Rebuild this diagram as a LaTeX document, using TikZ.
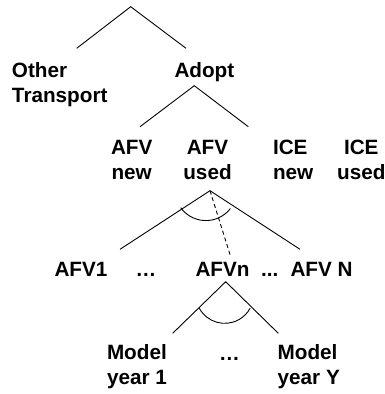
\documentclass[tikz,border=0pt]{standalone}
\usepackage{fontspec}
\setmainfont{Liberation Sans}
\begin{document}
\begin{tikzpicture}[x=1pt,y=-1pt,
  lbl/.style={font=\fontsize{20.7}{24.8}\selectfont\bfseries, inner sep=0pt, outer sep=0pt},
  edge/.style={line width=0.9pt, line join=miter},
  dashededge/.style={line width=0.9pt, dash pattern=on 4pt off 3pt}]
\useasboundingbox (0,0) rectangle (385,394);
% labels
\node[lbl, anchor=north west, align=left] (other) at (12,62.2) {Other\\Transport};
\node[lbl, anchor=base west] (adopt) at (174.5,77.3) {Adopt};
\node[lbl, anchor=north, align=center] (afvnew) at (131.7,140.2) {AFV\\new};
\node[lbl, anchor=north, align=center] (afvused) at (207.5,140.2) {AFV\\used};
\node[lbl, anchor=north west, align=left] (icenew) at (273,140.2) {ICE\\new};
\node[lbl, anchor=north, align=center] (iceused) at (361.3,140.2) {ICE\\used};
\node[lbl, anchor=base west] (afv1) at (54.5,276) {AFV1};
\node[lbl, anchor=base west] (dotsa) at (135.5,276) {…};
\node[lbl, anchor=base west] (afvn) at (195.5,276) {AFVn};
\node[lbl, anchor=base west] (dotsb) at (261,276) {...};
\node[lbl, anchor=base west] (afvN) at (290.5,276) {AFV N};
\node[lbl, anchor=north west, align=left] (model1) at (107,344.9) {Model\\year 1};
\node[lbl, anchor=base west] (dotsc) at (219.2,360) {…};
\node[lbl, anchor=north west, align=left] (modelY) at (277.7,344.9) {Model\\year Y};
% connector end points
\coordinate (root) at (130.7,6.7);
\coordinate (otherTop) at (76.7,48.3);
\coordinate (adoptTop) at (186,48.3);
\coordinate (adoptApex) at (194.3,85.7);
\coordinate (afvTop) at (140,126.7);
\coordinate (iceTop) at (248.3,126.7);
\coordinate (usedApex) at (210,190.7);
\coordinate (afv1Top) at (120,249.3);
\coordinate (afvNTop) at (300,249.3);
\coordinate (afvnTop) at (230.7,256.7);
\coordinate (nApex) at (225.7,281.7);
\coordinate (m1Top) at (172.7,333.3);
\coordinate (mYTop) at (278.3,333.3);
% connectors
\draw[edge] (otherTop) -- (root) -- (adoptTop);
\draw[edge] (afvTop) -- (adoptApex) -- (iceTop);
\draw[edge] (afv1Top) -- (usedApex) -- (afvNTop);
\draw[dashededge] (usedApex) -- (afvnTop);
\draw[edge] (m1Top) -- (nApex) -- (mYTop);
% arcs (y axis points down, so angles are mirrored)
\draw[edge] (180.7,207.7) arc[start angle=144.2, end angle=37.6, radius=31];
\draw[edge] (199.3,308.3) arc[start angle=151.2, end angle=28.8, radius=29];
\end{tikzpicture}
\end{document}
